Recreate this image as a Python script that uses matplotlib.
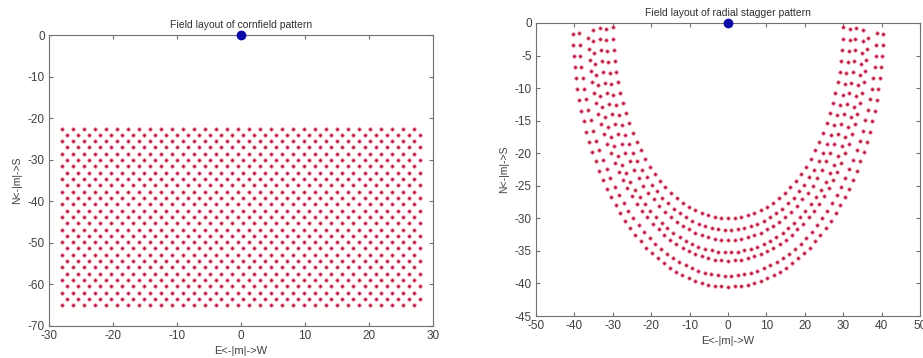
import matplotlib.pyplot as plt
import numpy as np

plt.rcParams['font.family'] = ['Liberation Sans', 'DejaVu Sans']
plt.rcParams['font.size'] = 7.5
plt.rcParams['axes.unicode_minus'] = False

# tower position
tower_x = [0.0]
tower_y = [0.0]

# cornfield pattern
corn_x_start = [-28.0, -27.14]     # first column of odd / even rows
corn_dx = 1.72                     # column spacing (m)
corn_ncol = 33
corn_y_top = -22.5
corn_dy = 1.518                    # row spacing (m)
corn_nrow = 29

# radial stagger pattern
ring_r = [30.0, 31.8, 33.3, 35.2, 36.5, 38.8, 40.5]
ring_stagger = [0.0, 0.5, 0.0, 0.5, 0.0, 0.5, 0.0]
ring_arc = 1.72                    # spacing of heliostats along a ring (m)
ring_min_angle = 1.0               # deg below horizontal of last heliostat

# cornfield coordinates
cx, cy = [], []
for i in range(corn_nrow):
    x0 = corn_x_start[i % 2]
    for j in range(corn_ncol):
        cx.append(x0 + j * corn_dx)
        cy.append(corn_y_top - i * corn_dy)

# radial stagger coordinates
rx, ry = [], []
for r, s in zip(ring_r, ring_stagger):
    step = np.degrees(ring_arc / r)
    k = np.arange(-80, 81) + s
    ang = 270 + k * step
    ang = ang[(ang >= 180 + ring_min_angle) & (ang <= 360 - ring_min_angle)]
    rx.extend(r * np.cos(np.radians(ang)))
    ry.extend(r * np.sin(np.radians(ang)))

fig = plt.figure(figsize=(9.23, 3.58), dpi=100)
ax0 = fig.add_axes([0.0531, 0.0894, 0.416, 0.8128])
ax1 = fig.add_axes([0.5807, 0.1173, 0.416, 0.8185])

dot = dict(ls='none', marker='o', markersize=2.4, markerfacecolor='#a8103a',
           markeredgecolor='#ec7890', markeredgewidth=0.6)
twr = dict(ls='none', marker='o', markersize=6, color='#0a0aa8', clip_on=False, zorder=5)

ax0.plot(cx, cy, **dot)
ax0.plot(tower_x, tower_y, **twr)
ax0.set_xlim(-30, 30)
ax0.set_ylim(-70, 0)
ax0.set_xticks(range(-30, 31, 10))
ax0.set_yticks(range(-70, 1, 10))
ax0.set_title('Field layout of cornfield pattern', fontsize=7.5, color='#303030', pad=5)

ax1.plot(rx, ry, **dot)
ax1.plot(tower_x, tower_y, **twr)
ax1.set_xlim(-50, 50)
ax1.set_ylim(-45, 0)
ax1.set_xticks(range(-50, 51, 10))
ax1.set_yticks(range(-45, 1, 5))
ax1.set_title('Field layout of radial stagger pattern', fontsize=7.5, color='#303030', pad=5)

for ax in (ax0, ax1):
    ax.set_xlabel('E<-|m|->W', color='#404040', labelpad=3, fontsize=8)
    ax.set_ylabel('N<-|m|->S', color='#404040', labelpad=4, fontsize=7.5)
    ax.tick_params(direction='in', top=True, right=True, length=3,
                   color='#707070', labelcolor='#404040', pad=3, labelsize=8.5)
    for sp in ax.spines.values():
        sp.set_color('#707070')

fig.savefig('out.png', dpi=100)
